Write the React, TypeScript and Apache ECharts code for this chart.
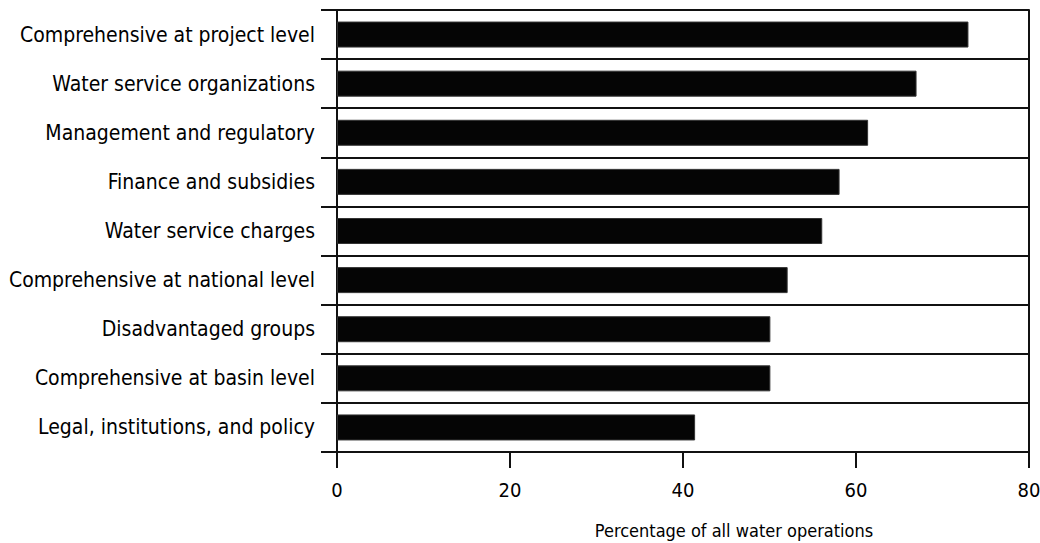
import React, { useEffect, useRef } from "react";
import * as echarts from "echarts";

const categories = [
  "Comprehensive at project level",
  "Water service organizations",
  "Management and regulatory",
  "Finance and subsidies",
  "Water service charges",
  "Comprehensive at national level",
  "Disadvantaged groups",
  "Comprehensive at basin level",
  "Legal, institutions, and policy",
];
const values = [73, 67, 61.4, 58.1, 56.1, 52.1, 50.1, 50.1, 41.4];
const xTitle = "Percentage of all water operations";

const FONT = "'DejaVu Sans Condensed', 'Liberation Sans Narrow', 'Liberation Sans', sans-serif";

export default function App() {
  const ref = useRef<HTMLDivElement>(null);
  useEffect(() => {
    document.body.style.margin = "0";
    const chart = echarts.init(ref.current!, null, { renderer: "svg" });
    chart.setOption({
      animation: false,
      backgroundColor: "#ffffff",
      grid: {
        left: 337,
        right: 11,
        top: 10,
        bottom: 91,
        containLabel: false,
        outerBoundsMode: "none",
      },
      xAxis: {
        type: "value",
        min: 0,
        max: 80,
        interval: 20,
        name: xTitle,
        nameLocation: "middle",
        nameGap: 69,
        nameTextStyle: {
          fontFamily: FONT,
          fontSize: 18,
          color: "#000",
          verticalAlign: "top",
          padding: [0, 0, 0, 102],
        },
        axisLine: { show: true, lineStyle: { color: "#111", width: 2 } },
        axisTick: { show: true, length: 16, inside: false, lineStyle: { color: "#111", width: 2 } },
        axisLabel: { fontFamily: FONT, fontSize: 20, color: "#000", margin: 28 },
        splitLine: { show: false },
      },
      yAxis: [
        {
          type: "category",
          data: categories,
          inverse: true,
          axisLine: { show: true, lineStyle: { color: "#111", width: 2 } },
          axisTick: { show: true, length: 16, inside: false, lineStyle: { color: "#111", width: 2 } },
          axisLabel: { fontFamily: FONT, fontSize: 21, color: "#000", margin: 22 },
          splitLine: { show: true, lineStyle: { color: "#111", width: 2 } },
        },
        {
          type: "category",
          data: categories,
          inverse: true,
          position: "right",
          axisLine: { show: true, lineStyle: { color: "#111", width: 2 } },
          axisTick: { show: false },
          axisLabel: { show: false },
          splitLine: { show: false },
        },
      ],
      series: [
        {
          type: "bar",
          data: values,
          yAxisIndex: 0,
          barWidth: 26,
          itemStyle: { color: "#050505", borderColor: "#333", borderWidth: 1 },
        },
      ],
    });
    return () => chart.dispose();
  }, []);
  return (
    <div
      ref={ref}
      style={{ position: "fixed", left: 0, top: 0, width: 1040, height: 543 }}
    />
  );
}
